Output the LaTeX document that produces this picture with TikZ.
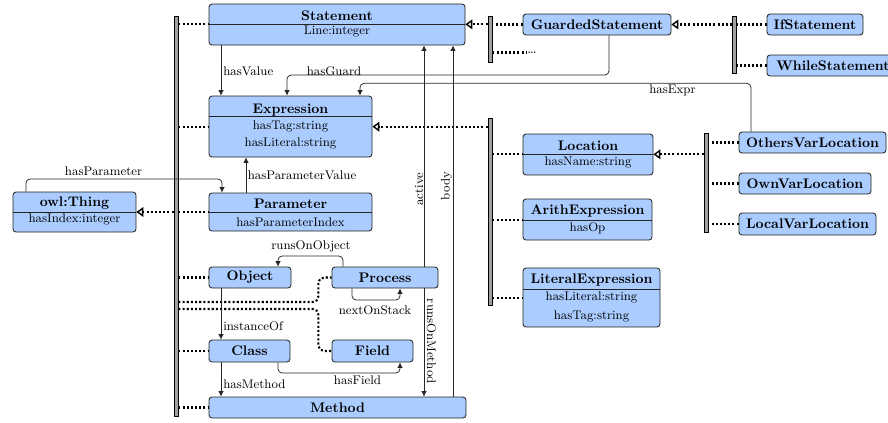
\documentclass[tikz,border=0pt]{standalone}
\usetikzlibrary{arrows.meta}
\definecolor{clsfill}{RGB}{170,204,255}
\definecolor{clsdraw}{RGB}{35,35,35}
\definecolor{barfill}{RGB}{160,160,160}
\begin{document}
\begin{tikzpicture}[x=0.72pt,y=-0.72pt,
  box/.style 2 args={draw=clsdraw, fill=clsfill, line width=0.6pt, rounded corners=2.2pt,
    inner sep=0pt, minimum width=#1*0.72pt, minimum height=#2*0.72pt, font=\bfseries},
  barbox/.style={draw=black, fill=barfill, line width=0.5pt, inner sep=0pt,
    minimum width=2.9pt, minimum height=#1*0.72pt},
  ttl/.style={anchor=base, inner sep=0pt, font=\bfseries},
  att/.style={anchor=base, inner sep=0pt, font=\small},
  lbl/.style={inner sep=0pt, font=\small},
  divider/.style={draw=clsdraw, line width=0.6pt},
  dots/.style={line width=1.5pt, dash pattern=on 1.5pt off 1.5pt},
  inh/.style={dots, -{Triangle[open, length=5pt, width=7pt, line width=1pt]}},
  assoc/.style={draw=black!85, line width=0.55pt, rounded corners=3pt, -{Latex[length=4pt, width=4pt]}},
]
\useasboundingbox (0,0) rectangle (888,422);

% ---------- bars ----------
\node[barbox=400] (b1) at (176,216) {};
\node[barbox=46]  (b2) at (490,39) {};
\node[barbox=57]  (b3) at (734.5,44.5) {};
\node[barbox=187] (b4) at (490,211.5) {};
\node[barbox=99]  (b5) at (706,182.5) {};

% ---------- two-compartment classes ----------
\node[box={256}{41}] (stmt) at (337,24.5) {};
\draw[divider] (stmt.west |- 0,24.3) -- (stmt.east |- 0,24.3);
\node[ttl] (stmt-t) at (337,20.7) {Statement};
\node[att] (stmt-a) at (337,34.6) {Line:integer};

\node[box={163}{61}] (expr) at (290.5,126.5) {};
\draw[divider] (expr.west |- 0,116.7) -- (expr.east |- 0,116.7);
\node[ttl] (expr-t) at (290.5,113.3) {Expression};
\node[att] (expr-a) at (290.5,129.2) {hasTag:string};
\node[att] (expr-b) at (290.5,146) {hasLiteral:string};

\node[box={163}{38}] (param) at (290.5,212) {};
\draw[divider] (param.west |- 0,212) -- (param.east |- 0,212);
\node[ttl] (param-t) at (290.5,208.3) {Parameter};
\node[att] (param-a) at (290.5,226) {hasParameterIndex};

\node[box={123}{40}] (thing) at (74.5,212) {};
\draw[divider] (thing.west |- 0,212) -- (thing.east |- 0,212);
\node[ttl] (thing-t) at (74.5,206) {owl:Thing};
\node[att] (thing-a) at (74.5,222.7) {hasIndex:integer};

\node[box={130}{41}] (loc) at (588,154.5) {};
\draw[divider] (loc.west |- 0,154.3) -- (loc.east |- 0,154.3);
\node[ttl] (loc-t) at (588,150) {Location};
\node[att] (loc-a) at (588,165.2) {hasName:string};

\node[box={129}{41}] (arith) at (587.5,219.5) {};
\draw[divider] (arith.west |- 0,220) -- (arith.east |- 0,220);
\node[ttl] (arith-t) at (587.5,214) {ArithExpression};
\node[att] (arith-a) at (587.5,231.5) {hasOp};

\node[box={137}{59}] (lit) at (591.5,297.5) {};
\draw[divider] (lit.west |- 0,289.3) -- (lit.east |- 0,289.3);
\node[ttl] (lit-t) at (591.5,283.5) {LiteralExpression};
\node[att] (lit-a) at (591.5,300.7) {hasLiteral:string};
\node[att] (lit-b) at (591.5,319) {hasTag:string};

% ---------- single-compartment classes ----------
\node[box={148}{21}] (guard) at (597,24.5) {GuardedStatement};
\node[box={96}{21}] (ifst) at (815,24.5) {IfStatement};
\node[box={132}{21}] (whilest) at (833,65.5) {WhileStatement};
\node[box={147}{21}] (others) at (812.5,142.5) {OthersVarLocation};
\node[box={132}{21}] (own) at (805,183.5) {OwnVarLocation};
\node[box={137}{22}] (localv) at (807.5,224) {LocalVarLocation};
\node[box={82}{21}] (obj) at (250,277.5) {Object};
\node[box={106}{21}] (proc) at (385,277.5) {Process};
\node[box={81}{22}] (klass) at (249.5,351) {Class};
\node[box={81}{22}] (field) at (372.5,351) {Field};
\node[box={257}{21}] (meth) at (337.5,407.5) {Method};

\node[anchor=base west, inner sep=0pt] (more) at (527,53.5) {\dots};

% ---------- subclass (dotted) connectors ----------
\draw[dots] (b1.east |- 0,24.3) -- (stmt.west |- 0,24.3);
\draw[dots] (b1.east |- 0,126.7) -- (expr.west |- 0,126.7);
\draw[dots] (b1.east |- 0,212) -- (param.west |- 0,212);
\draw[dots] (b1.east |- obj.west) -- (obj.west);
\draw[dots] (b1.east |- klass.west) -- (klass.west);
\draw[dots] (b1.east |- meth.west) -- (meth.west);
\draw[dots, rounded corners=4pt] (b1.east |- 0,302) -- ++(140,0) |- (proc.west);
\draw[dots, rounded corners=4pt] (b1.east |- 0,309) -- ++(140,0) |- (field.west);
\draw[inh] (b1.west |- 0,212) -- (thing.east |- 0,212);

\draw[inh] (b2.west |- 0,24.3) -- (stmt.east |- 0,24.3);
\draw[dots] (guard.west) -- (guard.west -| b2.east);
\draw[dots] (b2.east |- 0,52.5) -- (more.west |- 0,52.5);

\draw[inh] (b3.west |- guard.east) -- (guard.east);
\draw[dots] (ifst.west) -- (ifst.west -| b3.east);
\draw[dots] (whilest.west) -- (whilest.west -| b3.east);

\draw[inh] (b4.west |- 0,126.7) -- (expr.east |- 0,126.7);
\draw[dots] (b4.east |- 0,154.3) -- (loc.west |- 0,154.3);
\draw[dots] (b4.east |- 0,220) -- (arith.west |- 0,220);
\draw[dots] (b4.east |- 0,298.3) -- (lit.west |- 0,298.3);

\draw[inh] (b5.west |- 0,154.3) -- (loc.east |- 0,154.3);
\draw[dots] (others.west) -- (others.west -| b5.east);
\draw[dots] (own.west) -- (own.west -| b5.east);
\draw[dots] (localv.west) -- (localv.west -| b5.east);

% ---------- associations ----------
\draw[assoc] (stmt.south -| 221,0) -- (expr.north -| 221,0);
\draw[assoc] (guard.south -| 609,0) |- (287,75) -- (expr.north -| 287,0);
\draw[assoc] (others.north -| 751,0) |- (360,83.3) -- (expr.north -| 360,0);
\draw[assoc] (thing.north -| 26,0) |- (222,179) -- (param.north -| 222,0);
\draw[assoc] (param.north -| 246,0) -- (expr.south -| 246,0);
\draw[assoc] (proc.north -| 343,0) |- (278,256) -- (obj.north -| 278,0);
\draw[assoc] (proc.south -| 352,0) |- (400,300) -- (proc.south -| 400,0);
\draw[assoc] (proc.north -| 424,0) -- (stmt.south -| 424,0);
\draw[assoc] (proc.south -| 424,0) -- (meth.north -| 424,0);
\draw[assoc] (meth.north -| 453,0) -- (stmt.south -| 453,0);
\draw[assoc] (obj.south -| 221,0) -- (klass.north -| 221,0);
\draw[assoc] (klass.south -| 221,0) -- (meth.north -| 221,0);
\draw[assoc] (klass.south -| 278,0) |- (400,373) -- (field.south -| 400,0);

% ---------- labels ----------
\node[lbl, anchor=west] (l-value) at (223,71.5) {hasValue};
\node[lbl] (l-guard) at (334,71) {hasGuard};
\node[lbl] (l-expr) at (672.5,90) {hasExpr};
\node[lbl] (l-param) at (103.5,171.7) {hasParameter};
\node[lbl, anchor=west] (l-pval) at (247.5,175.3) {hasParameterValue};
\node[lbl] (l-rob) at (311,246) {runsOnObject};
\node[lbl] (l-next) at (375,310) {nextOnStack};
\node[lbl, rotate=90] (l-active) at (419,189) {active};
\node[lbl, rotate=-90] (l-rom) at (431.5,341.5) {runsOnMethod};
\node[lbl, rotate=90] (l-body) at (446.5,186) {body};
\node[lbl, anchor=west] (l-inst) at (223,326) {instanceOf};
\node[lbl, anchor=west] (l-meth) at (223,384) {hasMethod};
\node[lbl] (l-field) at (357.5,380.5) {hasField};
\end{tikzpicture}
\end{document}
